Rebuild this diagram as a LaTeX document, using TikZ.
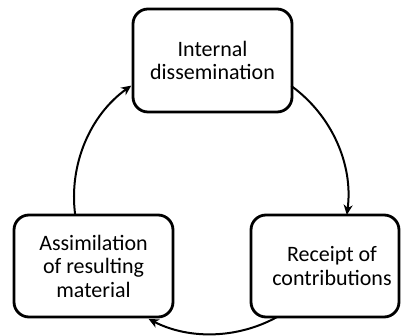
\documentclass[tikz,border=0pt]{standalone}
\usepackage{fontspec}
\setmainfont{Carlito}
\usetikzlibrary{arrows.meta,calc}
\begin{document}
\begin{tikzpicture}[x=1pt,y=1pt,
  stagebox/.style={draw=black, line width=2.8pt, rounded corners=15pt, fill=white,
    align=center, inner sep=0pt, font=\fontsize{22}{23.5}\selectfont},
  cyclearrow/.style={draw=black, line width=2pt, -{Stealth[length=10pt,width=9pt,inset=3pt]}}
]
\useasboundingbox (0,0) rectangle (401,336);
\fill[white] (0,0) rectangle (401,336);
\coordinate (c) at (211,139);
\node[stagebox, minimum width=159pt, minimum height=103pt] (top) at (212.5,275.5) {Internal\\dissemination};
\node[stagebox, minimum width=159pt, minimum height=102pt] (left) at (93.5,70) {Assimilation\\of resulting\\material};
\node[stagebox, minimum width=148pt, minimum height=102pt,
  label={[align=center, xshift=7pt, font=\fontsize{22}{23.5}\selectfont]center:Receipt of\\contributions}] (right) at (325,70) {};
\coordinate (a1) at ($(c)+(54.1:137)$);
\coordinate (b1) at ($(c)+(-61.2:137)$);
\coordinate (c1) at ($(c)+(187.5:137)$);
\draw[cyclearrow] (a1) arc[start angle=54.1, end angle=-7.5, radius=137];
\draw[cyclearrow] (b1) arc[start angle=-61.2, end angle=-117.1, radius=137];
\draw[cyclearrow] (c1) arc[start angle=187.5, end angle=125.6, radius=137];
\end{tikzpicture}
\end{document}
